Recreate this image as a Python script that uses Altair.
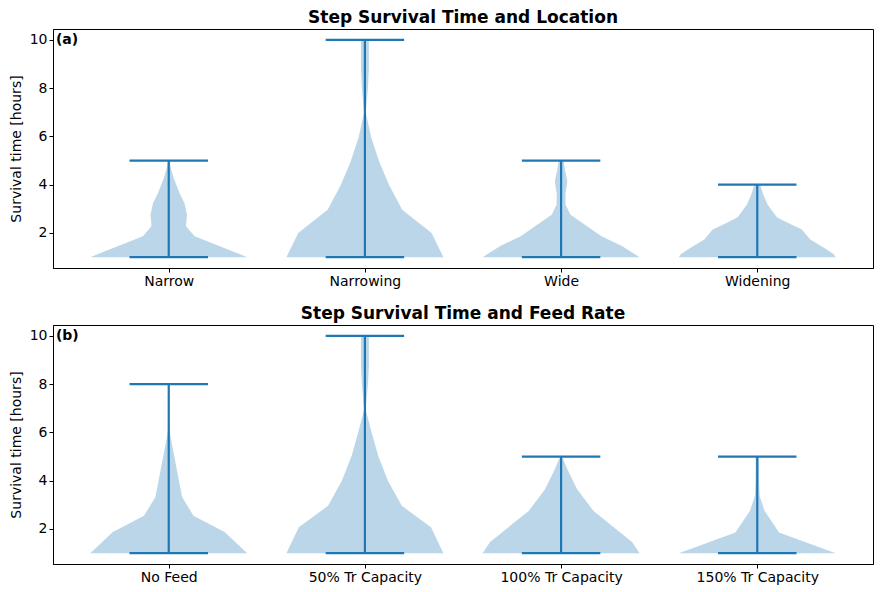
import json
import altair as alt
import pandas as pd

# ---------------- data ----------------
top_cats = ["Narrow", "Narrowing", "Wide", "Widening"]
bot_cats = ["No Feed", "50% Tr Capacity", "100% Tr Capacity", "150% Tr Capacity"]

top_min = [1, 1, 1, 1]
top_max = [5, 10, 5, 4]
bot_min = [1, 1, 1, 1]
bot_max = [8, 10, 5, 5]

# violin outlines: survival-time levels and half widths (in category units)
narrow_v = [1, 1.87, 2.28, 2.76, 3.24, 3.65, 4.26, 4.7, 5.0]
narrow_w = [0.4, 0.132, 0.088, 0.093, 0.08, 0.055, 0.026, 0.01, 0.004]
narrowing_v = [1, 2.0, 2.96, 3.99, 4.95, 5.97, 7.0, 7.5, 8.1, 8.8, 10]
narrowing_w = [0.4, 0.34, 0.19, 0.123, 0.073, 0.032, 0.004, 0.01, 0.016, 0.02, 0.02]
wide_v = [1, 1.46, 1.87, 2.76, 3.17, 3.6, 4.13, 4.6, 5.0]
wide_w = [0.4, 0.31, 0.206, 0.048, 0.023, 0.022, 0.032, 0.02, 0.012]
widening_v = [1, 1.12, 1.39, 1.73, 2.14, 2.4, 2.65, 3.17, 3.6, 4.0]
widening_w = [0.4, 0.39, 0.34, 0.27, 0.227, 0.16, 0.1, 0.053, 0.03, 0.015]

nofeed_v = [1, 1.88, 2.55, 3.33, 5.77, 6.1, 7.0, 8.0]
nofeed_w = [0.4, 0.285, 0.126, 0.068, 0.01, 0.004, 0.002, 0.001]
fifty_v = [1, 2.07, 2.96, 3.99, 5.02, 5.98, 6.94, 7.5, 8.1, 8.72, 10]
fifty_w = [0.4, 0.337, 0.188, 0.118, 0.068, 0.035, 0.004, 0.01, 0.016, 0.02, 0.02]
hundred_v = [1, 1.45, 2.76, 3.65, 4.47, 5.0]
hundred_w = [0.4, 0.363, 0.164, 0.082, 0.032, 0.005]
onefifty_v = [1, 1.86, 2.76, 3.37, 4.0, 5.0]
onefifty_w = [0.4, 0.111, 0.037, 0.012, 0.009, 0.008]

top_profiles = [(narrow_v, narrow_w), (narrowing_v, narrowing_w),
                (wide_v, wide_w), (widening_v, widening_w)]
bot_profiles = [(nofeed_v, nofeed_w), (fifty_v, fifty_w),
                (hundred_v, hundred_w), (onefifty_v, onefifty_w)]

BLUE = "#1f77b4"
FONT = "DejaVu Sans"
PW, PH = 820, 239


def panel(cats, profiles, mins, maxs, title, tag):
    rows = []
    for i, (vs, ws) in enumerate(profiles):
        for v, w in zip(vs, ws):
            rows.append({"pos": i + 1, "v": v, "half": w})
    adf = pd.DataFrame(rows)
    sdf = pd.DataFrame({"pos": [1, 2, 3, 4], "mn": mins, "mx": maxs})
    tdf = pd.DataFrame({"x": [0.425], "y": [10.0], "t": [tag]})

    xscale = alt.Scale(domain=[0.41, 4.59], nice=False, zero=False)
    yscale = alt.Scale(domain=[0.55, 10.45], nice=False, zero=False)
    label_expr = json.dumps(cats) + "[datum.value - 1]"
    xaxis = alt.Axis(values=[1, 2, 3, 4], labelExpr=label_expr, title=None)
    yaxis = alt.Axis(values=[2, 4, 6, 8, 10], title="Survival time [hours]")

    area = alt.Chart(adf).transform_calculate(
        lo="datum.pos - datum.half", hi="datum.pos + datum.half"
    ).mark_area(orient="horizontal", color=BLUE, opacity=0.3).encode(
        y=alt.Y("v:Q", scale=yscale, axis=yaxis),
        x=alt.X("lo:Q", scale=xscale, axis=xaxis),
        x2="hi:Q",
        detail="pos:N",
    )
    base = alt.Chart(sdf).transform_calculate(
        cl="datum.pos - 0.2", cr="datum.pos + 0.2"
    )
    stem = base.mark_rule(color=BLUE, strokeWidth=2.2).encode(
        x=alt.X("pos:Q", scale=xscale), y=alt.Y("mn:Q", scale=yscale), y2="mx:Q"
    )
    cap_lo = base.mark_rule(color=BLUE, strokeWidth=2.2).encode(
        x=alt.X("cl:Q", scale=xscale), x2="cr:Q", y=alt.Y("mn:Q", scale=yscale)
    )
    cap_hi = base.mark_rule(color=BLUE, strokeWidth=2.2).encode(
        x=alt.X("cl:Q", scale=xscale), x2="cr:Q", y=alt.Y("mx:Q", scale=yscale)
    )
    txt = alt.Chart(tdf).mark_text(
        align="left", baseline="middle", fontWeight="bold", fontSize=14,
        font=FONT, color="black"
    ).encode(x=alt.X("x:Q", scale=xscale), y=alt.Y("y:Q", scale=yscale), text="t:N")

    return alt.layer(area, stem, cap_lo, cap_hi, txt).properties(
        width=PW, height=PH,
        title=alt.TitleParams(title, fontSize=17, fontWeight="bold", font=FONT,
                              color="black", anchor="middle", offset=2),
    )


top = panel(top_cats, top_profiles, top_min, top_max,
            "Step Survival Time and Location", "(a)")
bot = panel(bot_cats, bot_profiles, bot_min, bot_max,
            "Step Survival Time and Feed Rate", "(b)")

chart = alt.vconcat(top, bot, spacing=15).properties(
    padding={"left": 0, "top": 0, "right": 0, "bottom": 0}
).configure_view(
    stroke="black", strokeWidth=1
).configure_axis(
    grid=False, domainColor="black", tickColor="black", tickSize=4,
    labelColor="black", labelFontSize=14, labelFont=FONT,
    titleColor="black", titleFontSize=14, titleFont=FONT, titleFontWeight="normal",
    labelPadding=2, titlePadding=6,
)

chart.save("out.html", embed_options={"renderer": "svg", "actions": False})
